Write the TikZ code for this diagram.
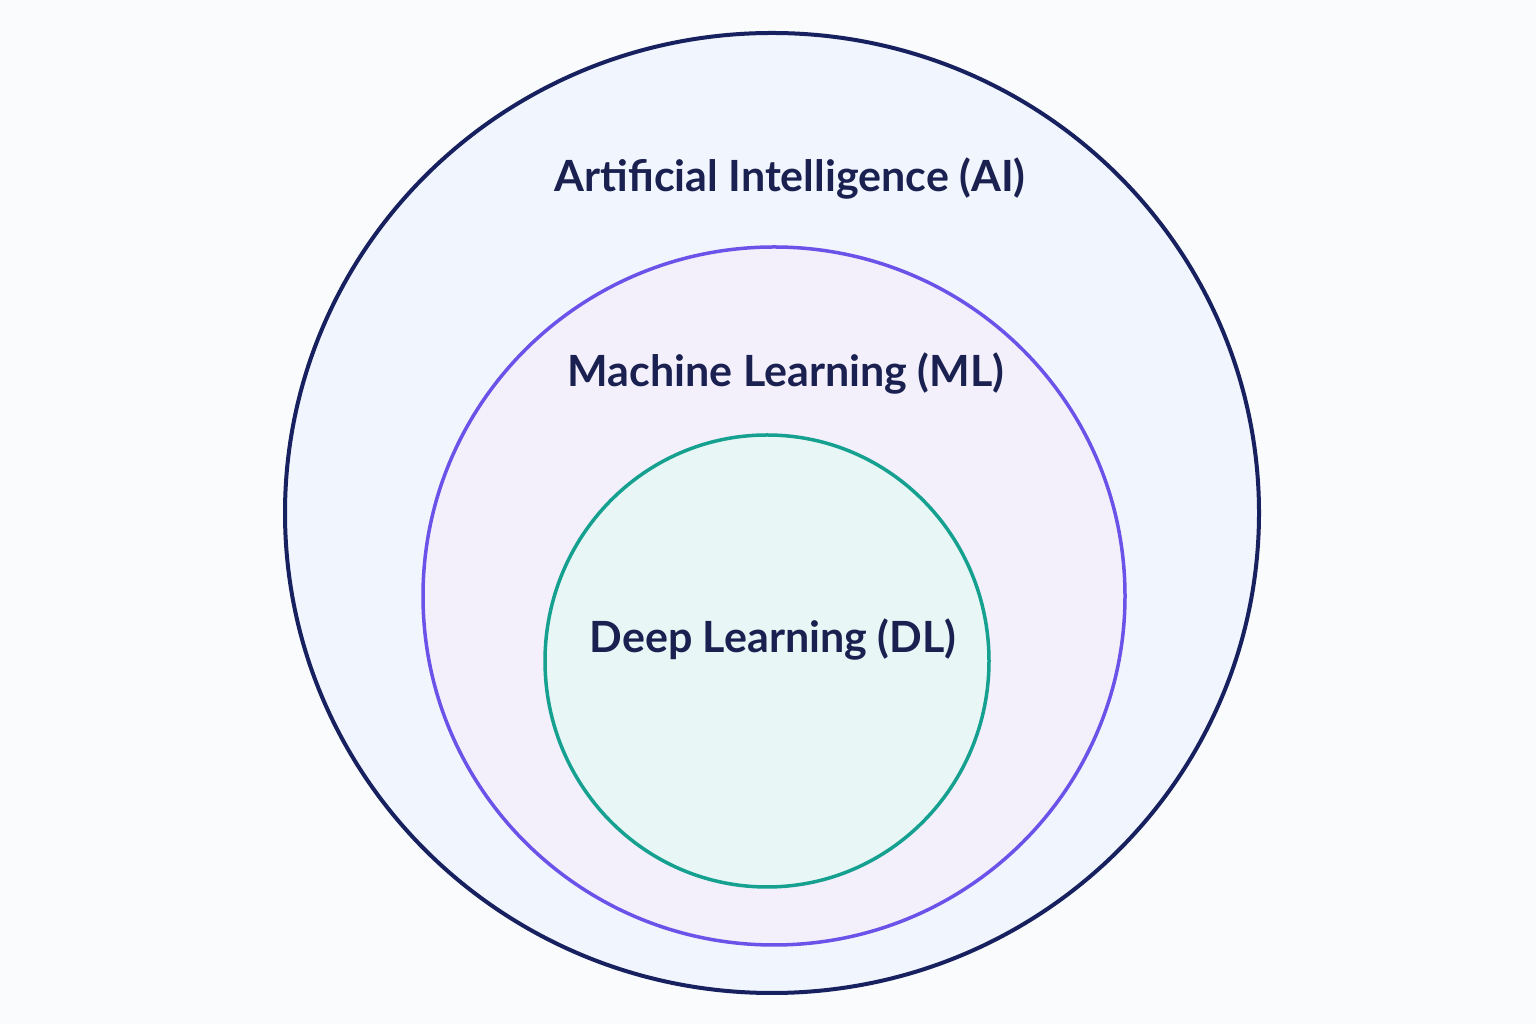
\documentclass[tikz,border=0pt]{standalone}
\usepackage{fontspec}
\setmainfont{Lato}
\definecolor{bg}{HTML}{FAFBFC}
\definecolor{aiS}{HTML}{18215F}
\definecolor{aiF}{HTML}{F1F5FD}
\definecolor{mlS}{HTML}{6B52E8}
\definecolor{mlF}{HTML}{F3F0FB}
\definecolor{dlS}{HTML}{15A090}
\definecolor{dlF}{HTML}{E8F6F5}
\definecolor{txt}{HTML}{1A2150}
\begin{document}
\begin{tikzpicture}[x=1pt,y=1pt,
  lbl/.style={text=txt,font=\fontsize{43}{50}\selectfont\bfseries,inner sep=0pt}]
\useasboundingbox (0,0) rectangle (1536,1024);
\fill[bg] (0,0) rectangle (1536,1024);
\draw[aiS,fill=aiF,line width=4pt] (772,511) ellipse [x radius=487,y radius=480];
\draw[mlS,fill=mlF,line width=3.5pt] (774,428) ellipse [x radius=351,y radius=349];
\draw[dlS,fill=dlF,line width=3.5pt] (767,363) ellipse [x radius=222,y radius=226];
\node[lbl] (ai) at (790,845) {Artificial Intelligence (AI)};
\node[lbl] (ml) at (786,650) {Machine Learning (ML)};
\node[lbl] (dl) at (773,384) {Deep Learning (DL)};
\end{tikzpicture}
\end{document}
